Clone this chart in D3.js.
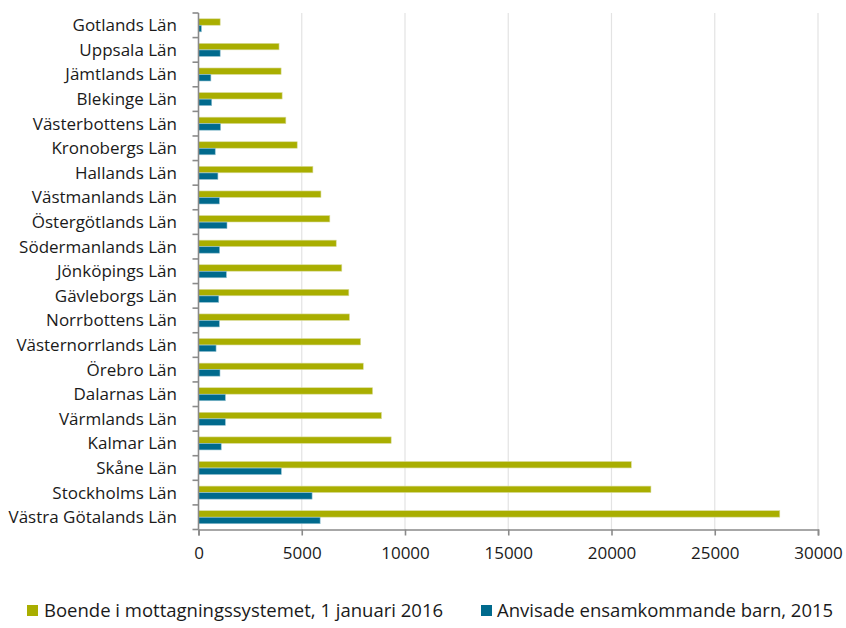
<!DOCTYPE html>
<html>
<head>
<meta charset="utf-8">
<script src="https://cdn.jsdelivr.net/npm/d3@7/dist/d3.min.js"></script>
<style>
  html, body { margin: 0; padding: 0; background: #ffffff; }
  svg { display: block; font-family: "Open Sans", Lato, sans-serif; }
</style>
</head>
<body>
<svg id="chart" width="846" height="628"></svg>
<script>
// Counties, listed top to bottom
const categories = [
  "Gotlands Län", "Uppsala Län", "Jämtlands Län", "Blekinge Län",
  "Västerbottens Län", "Kronobergs Län", "Hallands Län", "Västmanlands Län",
  "Östergötlands Län", "Södermanlands Län", "Jönköpings Län", "Gävleborgs Län",
  "Norrbottens Län", "Västernorrlands Län", "Örebro Län", "Dalarnas Län",
  "Värmlands Län", "Kalmar Län", "Skåne Län", "Stockholms Län",
  "Västra Götalands Län"
];

// Boende i mottagningssystemet, 1 januari 2016
const boende = [
  1050, 3900, 4000, 4050, 4230, 4780, 5540, 5930, 6360, 6670, 6940,
  7280, 7310, 7850, 7980, 8430, 8860, 9330, 20960, 21910, 28150
];

// Anvisade ensamkommande barn, 2015
const anvisade = [
  140, 1050, 600, 640, 1070, 810, 940, 1010, 1380, 1020, 1350,
  980, 1010, 850, 1040, 1300, 1300, 1100, 4010, 5500, 5890
];

const seriesNames = [
  "Boende i mottagningssystemet, 1 januari 2016",
  "Anvisade ensamkommande barn, 2015"
];
const seriesColors = ["#a9ae00", "#006a8d"];
const xTicks = [0, 5000, 10000, 15000, 20000, 25000, 30000];

const svg = d3.select("#chart");
const plot = { left: 198.5, right: 818, top: 13, bottom: 529.5 };

const x = d3.scaleLinear().domain([0, 30000]).range([plot.left, plot.right]);
const y = d3.scaleBand().domain(categories).range([plot.top, plot.bottom]).paddingInner(0).paddingOuter(0);
const inner = d3.scaleBand().domain([0, 1])
  .range([0, y.bandwidth()]).paddingOuter(0.88).paddingInner(0.02);

// Vertical gridlines
svg.append("g")
  .selectAll("line")
  .data(xTicks.slice(1))
  .join("line")
  .attr("x1", d => x(d)).attr("x2", d => x(d))
  .attr("y1", plot.top).attr("y2", plot.bottom)
  .attr("stroke", "#e3e3e3").attr("stroke-width", 1.2);

// Bars
const rows = categories.map((c, i) => ({ c, vals: [boende[i], anvisade[i]] }));
const groups = svg.append("g").selectAll("g")
  .data(rows).join("g")
  .attr("transform", d => `translate(0,${y(d.c)})`);

groups.selectAll("rect")
  .data(d => d.vals.map((v, k) => ({ v, k })))
  .join("rect")
  .attr("x", x(0))
  .attr("y", d => inner(d.k))
  .attr("width", d => x(d.v) - x(0))
  .attr("height", inner.bandwidth())
  .attr("fill", d => seriesColors[d.k])
  .attr("stroke", d => d.k === 0 ? "#d9db9a" : "#8fbfd0")
  .attr("stroke-width", 0.6);

// Y axis with ticks at band edges
const yAxisG = svg.append("g");
yAxisG.append("line")
  .attr("x1", plot.left).attr("x2", plot.left)
  .attr("y1", plot.top).attr("y2", plot.bottom)
  .attr("stroke", "#8a8a8a").attr("stroke-width", 1.6);
const edges = categories.map(c => y(c)).concat([plot.bottom]);
yAxisG.selectAll("line.tick").data(edges).join("line")
  .attr("class", "tick")
  .attr("x1", plot.left - 6).attr("x2", plot.left)
  .attr("y1", d => d).attr("y2", d => d)
  .attr("stroke", "#8a8a8a").attr("stroke-width", 1.6);
yAxisG.selectAll("text").data(categories).join("text")
  .attr("x", 177)
  .attr("y", d => y(d) + y.bandwidth() / 2)
  .attr("dy", "0.35em")
  .attr("text-anchor", "end")
  .attr("font-size", 17)
  .attr("fill", "#1a1a1a")
  .text(d => d);

// X axis
const xAxis = d3.axisBottom(x).tickValues(xTicks).tickSize(6).tickPadding(11).tickFormat(d3.format("d"));
const xAxisG = svg.append("g")
  .attr("transform", `translate(0,${plot.bottom})`)
  .call(xAxis);
xAxisG.select(".domain").attr("stroke", "#8a8a8a").attr("stroke-width", 1.6);
xAxisG.selectAll(".tick line").attr("stroke", "#8a8a8a").attr("stroke-width", 1.6);
xAxisG.selectAll(".tick text")
  .attr("font-size", 17)
  .attr("font-family", "'Open Sans', Lato, sans-serif")
  .attr("fill", "#1a1a1a");

// Legend
const legendItems = [
  { name: seriesNames[0], color: seriesColors[0], sx: 27, tx: 44 },
  { name: seriesNames[1], color: seriesColors[1], sx: 481, tx: 497 }
];
const legend = svg.append("g");
legend.selectAll("rect").data(legendItems).join("rect")
  .attr("x", d => d.sx).attr("y", 605)
  .attr("width", 11).attr("height", 11)
  .attr("fill", d => d.color);
legend.selectAll("text").data(legendItems).join("text")
  .attr("x", d => d.tx).attr("y", 611)
  .attr("dy", "0.35em")
  .attr("font-size", 18.5)
  .attr("fill", "#1a1a1a")
  .text(d => d.name);
</script>
</body>
</html>
